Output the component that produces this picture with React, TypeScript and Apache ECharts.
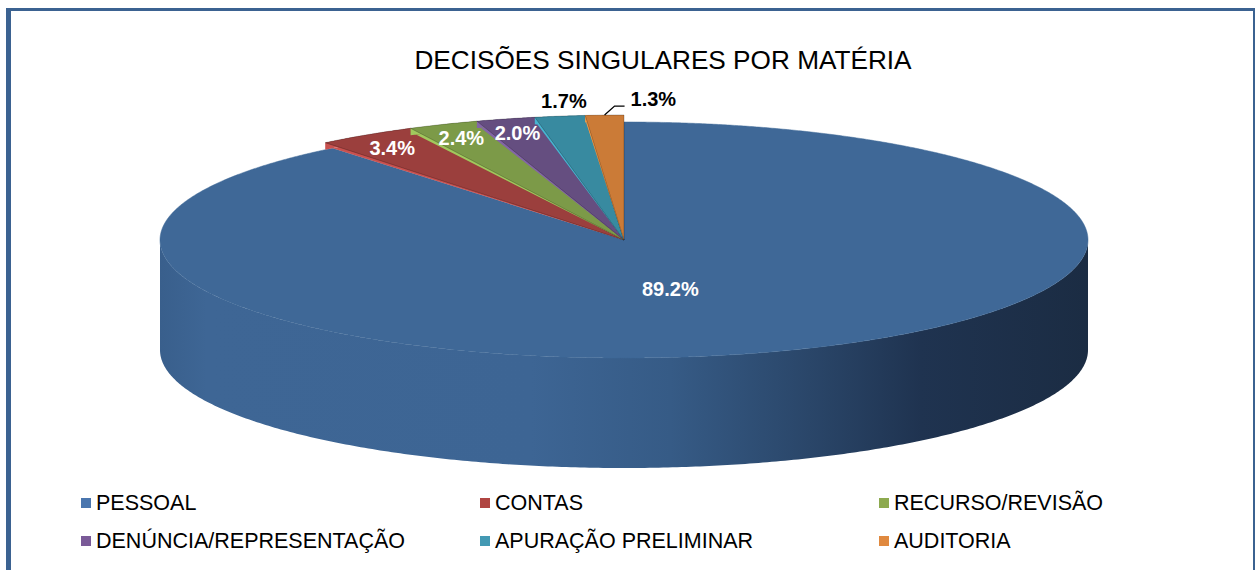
import React, { useEffect, useRef } from "react";
import * as echarts from "echarts";

const titleText = "DECISÕES SINGULARES POR MATÉRIA";
const categories = [
  "PESSOAL",
  "CONTAS",
  "RECURSO/REVISÃO",
  "DENÚNCIA/REPRESENTAÇÃO",
  "APURAÇÃO PRELIMINAR",
  "AUDITORIA",
];
const percentages = [89.2, 3.4, 2.4, 2.0, 1.7, 1.3];

// styles
const faceColors = ["#3f6897", "#9b3f3d", "#7c9a48", "#654e80", "#388aa0", "#cb7b37"];
const legendColors = ["#4a76ae", "#b04542", "#8daa4f", "#7a5a98", "#4399b3", "#e0893f"];
const FONT = "'Liberation Sans', Arial, Helvetica, sans-serif";

// geometry of the 3D pie (layout)
const CX = 624;
const CY = 240;
const RX = 464;
const RY = 118;
const DEPTH = 110;
// the small slices stand slightly proud of the big one
const RAISE_X = 12;
const RAISE_Y = 7;

const total = percentages.reduce((a, b) => a + b, 0);
const starts: number[] = [];
const ends: number[] = [];
{
  let c = 0;
  percentages.forEach((v) => {
    starts.push(c);
    c += v;
    ends.push(c);
  });
}
const largest = percentages.indexOf(Math.max(...percentages));

const ang = (cum: number) => -Math.PI / 2 + (2 * Math.PI * cum) / total;
const pt = (t: number, f = 1, dy = 0, raised = false): [number, number] => [
  CX + (RX + (raised ? RAISE_X : 0)) * f * Math.cos(t),
  CY + (RY + (raised ? RAISE_Y : 0)) * f * Math.sin(t) + dy,
];

type LabelLayout = {
  x: number;
  y: number;
  inside: boolean;
  align: string;
  leader?: [number, number][];
};

function computeLabels(): LabelLayout[] {
  const out: LabelLayout[] = [];
  let prevRight = -Infinity;
  percentages.forEach((v, i) => {
    const m = ang((starts[i] + ends[i]) / 2);
    const raised = i !== largest;
    if (v >= 2) {
      const f = v > 50 ? 0.3 : 0.9;
      const [x, y] = pt(m, f, (1 - f) * DEPTH * 0.2, raised);
      out.push({ x, y, inside: true, align: "center" });
    } else {
      const [rx, ry] = pt(m, 1, 0, raised);
      const halfW = 22;
      if (rx - halfW < prevRight + 8) {
        const elbow: [number, number] = [rx + 10, ry - 9];
        const end: [number, number] = [elbow[0] + 10, elbow[1]];
        out.push({
          x: end[0] + 6,
          y: end[1] - 7,
          inside: false,
          align: "left",
          leader: [[rx, ry], elbow, end],
        });
        prevRight = end[0] + 6 + 2 * halfW;
      } else {
        out.push({ x: rx + 4, y: ry - 15, inside: false, align: "center" });
        prevRight = rx + 4 + halfW;
      }
    }
  });
  return out;
}

const labels = computeLabels();

const wallGradient = () =>
  new echarts.graphic.LinearGradient(
    CX - RX,
    0,
    CX + RX,
    0,
    [
      { offset: 0, color: "#395f8c" },
      { offset: 0.05, color: "#3e6695" },
      { offset: 0.4, color: "#3d6594" },
      { offset: 0.55, color: "#365b86" },
      { offset: 0.7, color: "#2a4669" },
      { offset: 0.82, color: "#1f3350" },
      { offset: 1, color: "#1b2c43" },
    ],
    true
  );

function arcPoints(lo: number, hi: number, f: number, dy: number, raised: boolean, step: number) {
  const n = Math.max(4, Math.ceil((hi - lo) / step));
  const pts: [number, number][] = [];
  for (let k = 0; k <= n; k++) pts.push(pt(lo + ((hi - lo) * k) / n, f, dy, raised));
  return pts;
}

function renderItem(params: any, api: any) {
  const i = params.dataIndex;
  const s = api.value(0) as number;
  const e = api.value(1) as number;
  const v = api.value(2) as number;
  const a0 = ang(s);
  const a1 = ang(e);
  const raised = i !== largest;
  const children: any[] = [];

  if (!raised) {
    // visible outer wall (front half of the ellipse)
    for (const base of [0, 2 * Math.PI]) {
      const lo = Math.max(a0, base);
      const hi = Math.min(a1, base + Math.PI);
      if (hi > lo) {
        const topArc = arcPoints(lo, hi, 1, 0, false, 0.01);
        const botArc = arcPoints(lo, hi, 1, DEPTH, false, 0.01).reverse();
        children.push({
          type: "polygon",
          shape: { points: topArc.concat(botArc) },
          style: { fill: wallGradient(), stroke: null },
        });
      }
    }
  } else {
    const dark = echarts.color.lift(faceColors[i], -0.3);
    // side of the raised slice, seen below its top face
    const lowArc = arcPoints(a0, a1, 1, RAISE_Y, true, 0.005);
    const under: [number, number][] = [[CX, CY], pt(a0)];
    children.push({
      type: "polygon",
      shape: { points: under.concat(lowArc, [pt(a1)]) },
      style: { fill: dark, stroke: null },
    });
    const topArc = arcPoints(a0, a1, 1, 0, true, 0.005);
    children.push({
      type: "polygon",
      shape: { points: topArc.concat(lowArc.slice().reverse()) },
      style: { fill: dark, stroke: null },
    });
  }

  // top face
  const top: [number, number][] = [[CX, CY]].concat(arcPoints(a0, a1, 1, 0, raised, 0.005)) as any;
  children.push({
    type: "polygon",
    shape: { points: top },
    style: {
      fill: faceColors[i],
      stroke: raised ? "rgba(0,0,0,0.3)" : faceColors[i],
      lineWidth: raised ? 0.8 : 0.5,
      lineJoin: "round",
    },
  });

  const L = labels[i];
  if (L.leader) {
    children.push({
      type: "polyline",
      shape: { points: L.leader },
      style: { stroke: "#000", lineWidth: 1.3, fill: null },
    });
  }
  children.push({
    type: "text",
    x: L.x,
    y: L.y,
    style: {
      text: v.toFixed(1) + "%",
      fill: L.inside ? "#ffffff" : "#000000",
      font: `bold 20px ${FONT}`,
      align: L.align,
      textAlign: L.align,
      verticalAlign: "middle",
      textVerticalAlign: "middle",
    },
  });

  return { type: "group", children };
}

const legendLefts = [81, 480, 879];

const option: any = {
  animation: false,
  backgroundColor: "#ffffff",
  title: {
    text: titleText,
    left: 658,
    textAlign: "center",
    top: 42,
    textStyle: { fontSize: 26.2, fontWeight: "normal", color: "#000", fontFamily: FONT },
  },
  legend: legendLefts.map((left, c) => ({
    orient: "vertical",
    left,
    top: 490,
    padding: 0,
    itemWidth: 10,
    itemHeight: 10,
    itemGap: 12,
    icon: "rect",
    selectedMode: false,
    data: [categories[c], categories[c + 3]],
    textStyle: { fontSize: 21.5, fontFamily: FONT, color: "#000", lineHeight: 26 },
  })),
  graphic: [
    { type: "rect", shape: { x: 6, y: 8, width: 5, height: 570 }, style: { fill: "#3b6291" } },
    { type: "rect", shape: { x: 6, y: 8, width: 1249, height: 3 }, style: { fill: "#3b6291" } },
    { type: "rect", shape: { x: 1253, y: 8, width: 2, height: 570 }, style: { fill: "#3b6291" } },
  ],
  series: [
    {
      type: "pie",
      radius: [0, 0],
      center: [-100, -100],
      silent: true,
      label: { show: false },
      labelLine: { show: false },
      data: categories.map((name, i) => ({
        name,
        value: percentages[i],
        itemStyle: { color: legendColors[i] },
      })),
    },
    {
      type: "custom",
      coordinateSystem: "none",
      silent: true,
      renderItem,
      data: categories.map((name, i) => ({
        name,
        value: [starts[i], ends[i], percentages[i]],
      })),
    },
  ],
};

export default function App() {
  const ref = useRef<HTMLDivElement>(null);
  useEffect(() => {
    const chart = echarts.init(ref.current!, null, { renderer: "svg" });
    chart.setOption(option);
    return () => chart.dispose();
  }, []);
  return (
    <div
      ref={ref}
      style={{ position: "fixed", left: 0, top: 0, width: 1255, height: 570, background: "#fff" }}
    />
  );
}
